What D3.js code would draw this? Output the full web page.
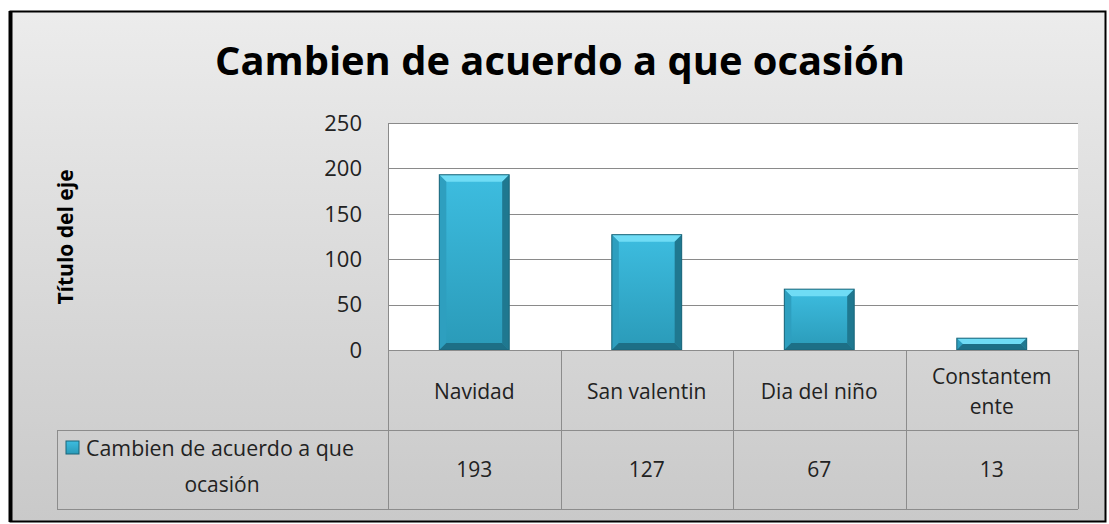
<html>
<head>
<meta charset="utf-8">
<title>Cambien de acuerdo a que ocasión</title>
<style>
    body{ margin:0; padding:0; background:white; }
    svg text{ font-family:"Open Sans", "Noto Sans", sans-serif; }
</style>
</head>
<body>
<svg id="chart" width="1109" height="524"></svg>
<script src="https://d3js.org/d3.v7.min.js"></script>
<script>
    var categories = ["Navidad", "San valentin", "Dia del niño", "Constantemente"];
    var categoryLines = [["Navidad"], ["San valentin"], ["Dia del niño"], ["Constantem", "ente"]];
    var values = [193, 127, 67, 13];
    var yTicks = [0, 50, 100, 150, 200, 250];
    var seriesName = ["Cambien de acuerdo a que", "ocasión"];
    var title = "Cambien de acuerdo a que ocasión";
    var axisTitle = "Título del eje";

    var svg = d3.select("#chart");
    var defs = svg.append("defs");

    var bg = defs.append("linearGradient").attr("id", "bg")
        .attr("x1", 0).attr("y1", 0).attr("x2", 0).attr("y2", 1);
    bg.append("stop").attr("offset", "0%").attr("stop-color", "#ececec");
    bg.append("stop").attr("offset", "100%").attr("stop-color", "#c9c9c9");

    var barGrad = defs.append("linearGradient").attr("id", "barGrad")
        .attr("x1", 0).attr("y1", 0).attr("x2", 0).attr("y2", 1);
    barGrad.append("stop").attr("offset", "0%").attr("stop-color", "#3dbde0");
    barGrad.append("stop").attr("offset", "100%").attr("stop-color", "#2a9ab8");

    // outer frame
    svg.append("rect")
        .attr("x", 10.5).attr("y", 11.5)
        .attr("width", 1095).attr("height", 510)
        .attr("fill", "url(#bg)")
        .attr("stroke", "#000").attr("stroke-width", 2);
    svg.append("line")
        .attr("x1", 10.5).attr("x2", 10.5).attr("y1", 11).attr("y2", 522)
        .attr("stroke", "#000").attr("stroke-width", 4);

    var plotLeft = 388, plotRight = 1078, plotTop = 123, plotBottom = 350;
    var x = d3.scaleBand().domain(categories).range([plotLeft, plotRight]);
    var y = d3.scaleLinear().domain([0, 250]).range([plotBottom, plotTop]);

    svg.append("rect")
        .attr("x", plotLeft).attr("y", plotTop)
        .attr("width", plotRight - plotLeft).attr("height", plotBottom - plotTop)
        .attr("fill", "#fff");

    // gridlines
    svg.selectAll(".grid").data(yTicks).enter().append("line")
        .attr("x1", plotLeft).attr("x2", plotRight)
        .attr("y1", function(d) { return Math.round(y(d)) + 0.5; })
        .attr("y2", function(d) { return Math.round(y(d)) + 0.5; })
        .attr("stroke", "#8a8a8a").attr("stroke-width", 1);

    svg.append("line")
        .attr("x1", plotLeft + 0.5).attr("x2", plotLeft + 0.5)
        .attr("y1", plotTop).attr("y2", plotBottom)
        .attr("stroke", "#8a8a8a");

    // y tick labels
    svg.selectAll(".ytick").data(yTicks).enter().append("text")
        .attr("x", 362).attr("y", function(d) { return y(d); })
        .attr("dy", "0.35em")
        .attr("text-anchor", "end")
        .attr("font-size", 22).attr("fill", "#222")
        .text(function(d) { return d; });

    // bars
    var bw = x.bandwidth() * 0.405;
    var bev = 7;
    var bars = svg.selectAll(".bar").data(values).enter().append("g");
    bars.each(function(d, i) {
        var g = d3.select(this);
        var x0 = x(categories[i]) + (x.bandwidth() - bw) / 2;
        var x1 = x0 + bw;
        var y0 = y(d), y1 = y(0);
        var b = Math.min(bev, (y1 - y0) / 2);
        g.append("rect").attr("x", x0).attr("y", y0)
            .attr("width", bw).attr("height", y1 - y0)
            .attr("fill", "url(#barGrad)");
        // top bevel
        g.append("polygon")
            .attr("points", [[x0, y0], [x1, y0], [x1 - b, y0 + b], [x0 + b, y0 + b]].join(" "))
            .attr("fill", "#6fdcf5");
        // left bevel
        g.append("polygon")
            .attr("points", [[x0, y0], [x0 + b, y0 + b], [x0 + b, y1 - b], [x0, y1]].join(" "))
            .attr("fill", "#2e9fbf");
        // right bevel
        g.append("polygon")
            .attr("points", [[x1, y0], [x1 - b, y0 + b], [x1 - b, y1 - b], [x1, y1]].join(" "))
            .attr("fill", "#1f7890");
        // bottom bevel
        g.append("polygon")
            .attr("points", [[x0, y1], [x0 + b, y1 - b], [x1 - b, y1 - b], [x1, y1]].join(" "))
            .attr("fill", "#1d6f86");
        g.append("rect").attr("x", x0).attr("y", y0)
            .attr("width", bw).attr("height", y1 - y0)
            .attr("fill", "none").attr("stroke", "#1b6478").attr("stroke-width", 1);
    });

    // data table
    var rowMid = 430, rowBot = 509, legLeft = 57;
    var tbl = svg.append("g").attr("stroke", "#8c8c8c").attr("stroke-width", 1).attr("fill", "none");
    tbl.append("line").attr("x1", plotLeft).attr("x2", plotRight).attr("y1", plotBottom + 0.5).attr("y2", plotBottom + 0.5);
    tbl.append("line").attr("x1", legLeft).attr("x2", plotRight).attr("y1", rowMid + 0.5).attr("y2", rowMid + 0.5);
    tbl.append("line").attr("x1", legLeft).attr("x2", plotRight).attr("y1", rowBot + 0.5).attr("y2", rowBot + 0.5);
    tbl.append("line").attr("x1", legLeft + 0.5).attr("x2", legLeft + 0.5).attr("y1", rowMid).attr("y2", rowBot);
    var cols = categories.map(function(c) { return x(c); }).concat([plotRight]);
    tbl.selectAll(".col").data(cols).enter().append("line")
        .attr("x1", function(d) { return Math.round(d) + 0.5; })
        .attr("x2", function(d) { return Math.round(d) + 0.5; })
        .attr("y1", plotBottom).attr("y2", rowBot);

    // category labels
    svg.selectAll(".cat").data(categoryLines).enter().append("text")
        .attr("x", function(d, i) { return x(categories[i]) + x.bandwidth() / 2; })
        .attr("y", function(d) { return d.length > 1 ? 384 : 399; })
        .attr("text-anchor", "middle").attr("font-size", 21).attr("fill", "#222")
        .each(function(d) {
            var t = d3.select(this);
            d.forEach(function(line, k) {
                t.append("tspan").attr("x", t.attr("x")).attr("dy", k ? 30 : 0).text(line);
            });
        });

    // values row
    svg.selectAll(".val").data(values).enter().append("text")
        .attr("x", function(d, i) { return x(categories[i]) + x.bandwidth() / 2; })
        .attr("y", 477)
        .attr("text-anchor", "middle").attr("font-size", 21).attr("fill", "#222")
        .text(function(d) { return d; });

    // legend cell
    svg.append("rect").attr("x", 66).attr("y", 441).attr("width", 13).attr("height", 13)
        .attr("fill", "url(#barGrad)").attr("stroke", "#1b6478");
    svg.append("text").attr("x", 86).attr("y", 456)
        .attr("font-size", 21).attr("fill", "#222")
        .attr("textLength", 268).attr("lengthAdjust", "spacingAndGlyphs")
        .text(seriesName[0]);
    svg.append("text").attr("x", 222).attr("y", 492).attr("text-anchor", "middle")
        .attr("font-size", 21).attr("fill", "#222").text(seriesName[1]);

    // axis title
    svg.append("text")
        .attr("transform", "translate(73,237) rotate(-90)")
        .attr("text-anchor", "middle")
        .attr("font-size", 21).attr("font-weight", "bold").attr("fill", "#000")
        .text(axisTitle);

    // chart title
    svg.append("text")
        .attr("x", 560).attr("y", 75)
        .attr("text-anchor", "middle")
        .attr("font-size", 39).attr("font-weight", "bold").attr("fill", "#000")
        .attr("textLength", 690).attr("lengthAdjust", "spacingAndGlyphs")
        .text(title);
</script>
</body>
</html>
